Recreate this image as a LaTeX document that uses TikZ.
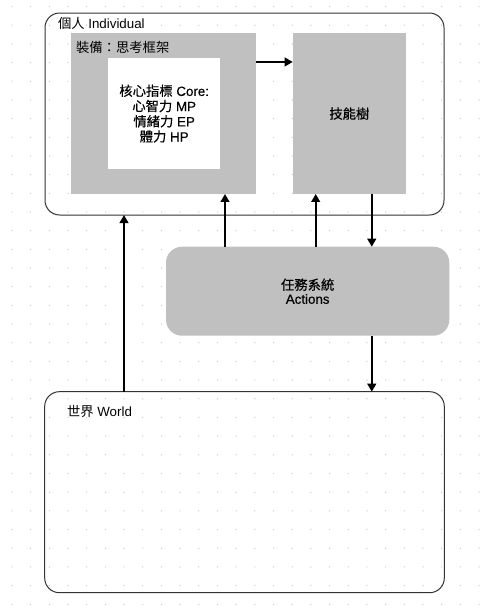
\documentclass[tikz,border=0pt]{standalone}
\usepackage{fontspec}
\setmainfont{Liberation Sans}
\newfontfamily\cjk{Noto Sans CJK TC}
\newfontfamily\cjkmed[FakeBold=0.4]{Noto Sans CJK TC}
\newfontfamily\latinmed[FakeBold=0.4]{Liberation Sans}
\usetikzlibrary{arrows.meta, positioning, calc}
\definecolor{boxgray}{HTML}{C0C0C0}
\definecolor{edgegray}{HTML}{333333}
\definecolor{dotgray}{HTML}{CFCFCF}

\begin{document}
\begin{tikzpicture}[
    x=0.75pt, y=-0.75pt,
    every node/.style={font=\fontsize{10}{11.6}\selectfont, inner sep=0, outer sep=0},
    frame/.style={draw=edgegray, line width=0.75pt, rounded corners=11pt, anchor=north west},
    block/.style={fill=#1, anchor=north west},
    block/.default=boxgray,
    link/.style={-{Triangle[length=6pt, width=6.5pt]}, line width=1.5pt}
]

% Page and dotted grid
\useasboundingbox (0,0) rectangle (487,607);
\fill[white] (0,0) rectangle (487,607);
\foreach \i in {0,...,25} {
    \foreach \j in {0,...,32} {
        \fill[dotgray] (12+18.68*\i, 6.5+18.68*\j) circle[radius=0.55pt];
    }
}

% Individual frame
\node[frame, minimum width=299.25pt, minimum height=151.5pt] (individual) at (45,13) {};
\node[anchor=west] (individual-label) at (58,23.3) {{\cjk 個人} Individual};

% Equipment box with core
\node[block, minimum width=138.75pt, minimum height=120.5pt] (equip) at (71,33.3) {};
\node[anchor=west] (equip-label) at (76,47) {\cjk 裝備：思考框架};
\node[block=white, minimum width=83.8pt, minimum height=83pt] (core) at (108.3,58.3) {};
\node[align=center, font=\fontsize{10}{11.4}\selectfont\latinmed] (core-text) at (core.center)
    {{\cjkmed 核心指標} Core:\\{\cjkmed 心智力} MP\\{\cjkmed 情緒力} EP\\{\cjkmed 體力} HP};

% Skill tree
\node[block, minimum width=85pt, minimum height=120.5pt] (skill) at (292.7,33.3) {};
\node (skill-text) at (skill.center) {\cjkmed 技能樹};

% Actions
\node[fill=boxgray, rounded corners=12pt, minimum width=212.5pt, minimum height=66.75pt, anchor=north west,
      align=center, font=\fontsize{10}{10.5}\selectfont\latinmed] (actions) at (166,246.7)
    {{\cjkmed 任務系統}\\Actions};

% World frame
\node[frame, minimum width=299.7pt, minimum height=150.75pt] (world) at (44.7,391.7) {};
\node[anchor=west] (world-label) at (67,412) {{\cjk 世界} World};

% Connector points
\coordinate (equip-in) at ([xshift=-23.25pt]equip.south east);
\coordinate (skill-in) at ([xshift=17.25pt]skill.south west);
\coordinate (skill-out) at ([xshift=-25.7pt]skill.south east);
\coordinate (ind-in) at ([xshift=59.25pt]individual.south west);

% Arrows
\draw[link] ([yshift=-21.5pt]equip.north east) -- ([yshift=-21.5pt]skill.north west);
\draw[link] (actions.north -| equip-in) -- (equip-in);
\draw[link] (actions.north -| skill-in) -- (skill-in);
\draw[link] (skill-out) -- (actions.north -| skill-out);
\draw[link] (actions.south -| skill-out) -- (world.north -| skill-out);
\draw[link] (world.north -| ind-in) -- (ind-in);

\end{tikzpicture}
\end{document}
